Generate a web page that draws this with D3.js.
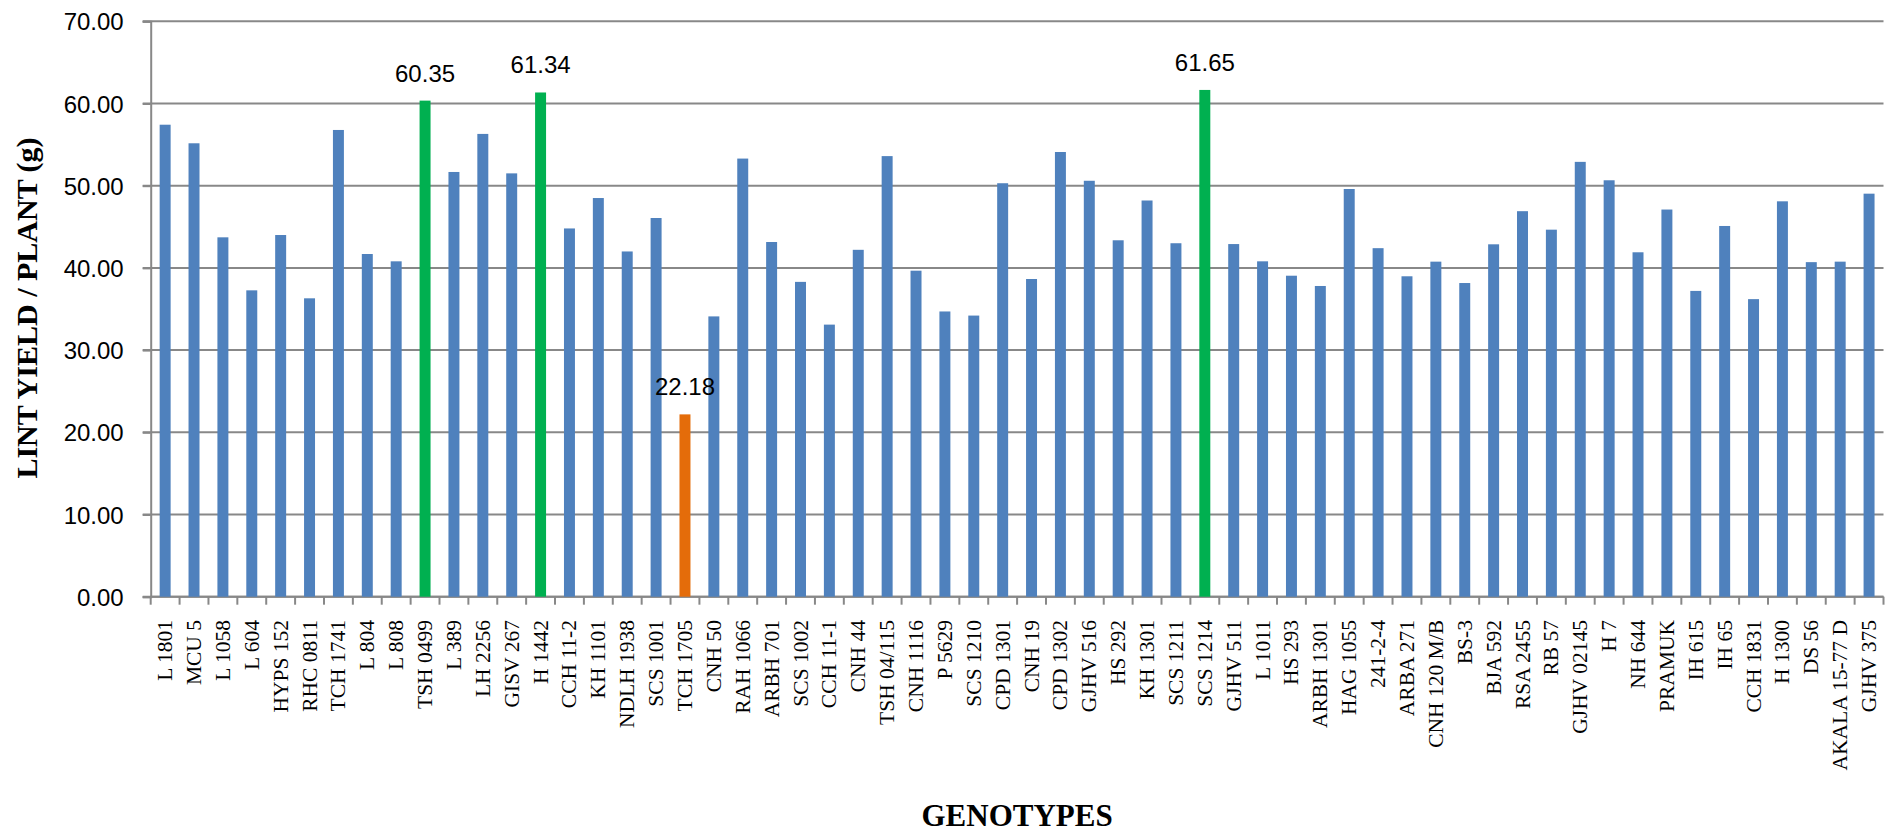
<!DOCTYPE html>
<html>
<head>
<meta charset="utf-8">
<script src="https://cdn.jsdelivr.net/npm/d3@7"></script>
<style>
  html, body { margin: 0; padding: 0; background: #ffffff; }
  svg { display: block; }
</style>
</head>
<body>
<svg id="chart" width="1896" height="832"></svg>
<script>
// Genotypes in plotting order
const genotypes = [
  "L 1801", "MCU 5", "L 1058", "L 604", "HYPS 152", "RHC 0811", "TCH 1741", "L 804", "L 808", "TSH 0499",
  "L 389", "LH 2256", "GISV 267", "H 1442", "CCH 11-2", "KH 1101", "NDLH 1938", "SCS 1001", "TCH 1705", "CNH 50",
  "RAH 1066", "ARBH 701", "SCS 1002", "CCH 11-1", "CNH 44", "TSH 04/115", "CNH 1116", "P 5629", "SCS 1210", "CPD 1301",
  "CNH 19", "CPD 1302", "GJHV 516", "HS 292", "KH 1301", "SCS 1211", "SCS 1214", "GJHV 511", "L 1011", "HS 293",
  "ARBH 1301", "HAG 1055", "241-2-4", "ARBA 271", "CNH 120 M/B", "BS-3", "BJA 592", "RSA 2455", "RB 57", "GJHV 02145",
  "H 7", "NH 644", "PRAMUK", "IH 615", "IH 65", "CCH 1831", "H 1300", "DS 56", "AKALA 15-77 D", "GJHV 375"
];

// Lint yield per plant (g)
const lintYield = [
  57.42, 55.16, 43.72, 37.27, 44.00, 36.30, 56.78, 41.69, 40.80, 60.35,
  51.67, 56.30, 51.50, 61.34, 44.80, 48.50, 42.00, 46.07, 22.18, 34.10,
  53.30, 43.15, 38.30, 33.10, 42.20, 53.60, 39.66, 34.70, 34.20, 50.30,
  38.65, 54.10, 50.60, 43.36, 48.20, 43.00, 61.65, 42.90, 40.80, 39.05,
  37.80, 49.60, 42.40, 38.98, 40.76, 38.16, 42.87, 46.90, 44.65, 52.90,
  50.66, 41.90, 47.10, 37.20, 45.10, 36.20, 48.10, 40.70, 40.76, 49.03
];

// Highest and lowest yielding genotypes, drawn highlighted and labelled
const topGenotypes = ["TSH 0499", "H 1442", "SCS 1214"];
const lowGenotypes = ["TCH 1705"];

const yTicks = [0, 10, 20, 30, 40, 50, 60, 70];

const data = genotypes.map((g, i) => ({ name: g, value: lintYield[i] }));

const svg = d3.select("#chart");

const plotLeft = 150.7, plotRight = 1883.5, plotTop = 21.3, plotBottom = 596.7;

const x = d3.scaleBand().domain(genotypes).range([plotLeft, plotRight]).padding(0);
const y = d3.scaleLinear().domain([0, 70]).range([plotBottom, plotTop]);

const gridColor = "#888888";

// Horizontal gridlines
svg.append("g")
  .selectAll("line")
  .data(yTicks)
  .join("line")
  .attr("x1", plotLeft - 8)
  .attr("x2", plotRight)
  .attr("y1", d => y(d))
  .attr("y2", d => y(d))
  .attr("stroke", gridColor)
  .attr("stroke-width", 2);

// Y axis
const yAxis = svg.append("g")
  .attr("transform", `translate(${plotLeft},0)`)
  .call(d3.axisLeft(y).tickValues(yTicks).tickFormat(d3.format(".2f")).tickSize(8).tickPadding(19));
yAxis.select(".domain").attr("stroke", gridColor).attr("stroke-width", 2);
yAxis.selectAll(".tick line").attr("stroke", gridColor).attr("stroke-width", 2);
yAxis.selectAll(".tick text")
  .attr("fill", "#000")
  .attr("font-family", "'Liberation Sans', Arial, sans-serif")
  .attr("font-size", 24)
  .attr("dy", "0.36em");

// X axis with ticks between categories
const xAxis = svg.append("g")
  .attr("transform", `translate(0,${plotBottom})`);
xAxis.append("line")
  .attr("x1", plotLeft).attr("x2", plotRight)
  .attr("y1", 0).attr("y2", 0)
  .attr("stroke", gridColor).attr("stroke-width", 2);
xAxis.selectAll("line.tk")
  .data(genotypes.concat(["__end"]))
  .join("line")
  .attr("class", "tk")
  .attr("x1", (d, i) => i < genotypes.length ? x(d) : plotRight)
  .attr("x2", (d, i) => i < genotypes.length ? x(d) : plotRight)
  .attr("y1", 0).attr("y2", 8)
  .attr("stroke", gridColor).attr("stroke-width", 2);

// Bars
const barW = x.bandwidth() * 0.38;
const colorOf = d => topGenotypes.includes(d.name) ? "#00B050"
  : lowGenotypes.includes(d.name) ? "#E46C0A" : "#4F81BD";

svg.append("g")
  .selectAll("rect")
  .data(data)
  .join("rect")
  .attr("x", d => x(d.name) + (x.bandwidth() - barW) / 2)
  .attr("width", barW)
  .attr("y", d => y(d.value))
  .attr("height", d => y(0) - y(d.value))
  .attr("fill", colorOf);

// Value labels for highlighted genotypes
svg.append("g")
  .selectAll("text")
  .data(data.filter(d => topGenotypes.includes(d.name) || lowGenotypes.includes(d.name)))
  .join("text")
  .attr("x", d => x(d.name) + x.bandwidth() / 2)
  .attr("y", d => y(d.value) - 19)
  .attr("text-anchor", "middle")
  .attr("font-family", "'Liberation Sans', Arial, sans-serif")
  .attr("font-size", 24)
  .attr("fill", "#000")
  .text(d => d.value.toFixed(2));

// Category labels, rotated
svg.append("g")
  .selectAll("text")
  .data(genotypes)
  .join("text")
  .attr("transform", d => `translate(${x(d) + x.bandwidth() / 2 + 7},620) rotate(-90)`)
  .attr("text-anchor", "end")
  .attr("font-family", "'Liberation Serif', 'Times New Roman', serif")
  .attr("font-size", 21.5)
  .attr("fill", "#000")
  .text(d => d);

// Axis titles
svg.append("text")
  .attr("x", (plotLeft + plotRight) / 2)
  .attr("y", 826)
  .attr("text-anchor", "middle")
  .attr("font-family", "'Liberation Serif', 'Times New Roman', serif")
  .attr("font-weight", "bold")
  .attr("font-size", 31)
  .attr("fill", "#000")
  .text("GENOTYPES");

svg.append("text")
  .attr("transform", "translate(37,308) rotate(-90)")
  .attr("text-anchor", "middle")
  .attr("font-family", "'Liberation Serif', 'Times New Roman', serif")
  .attr("font-weight", "bold")
  .attr("font-size", 30)
  .attr("fill", "#000")
  .text("LINT YIELD / PLANT (g)");
</script>
</body>
</html>
